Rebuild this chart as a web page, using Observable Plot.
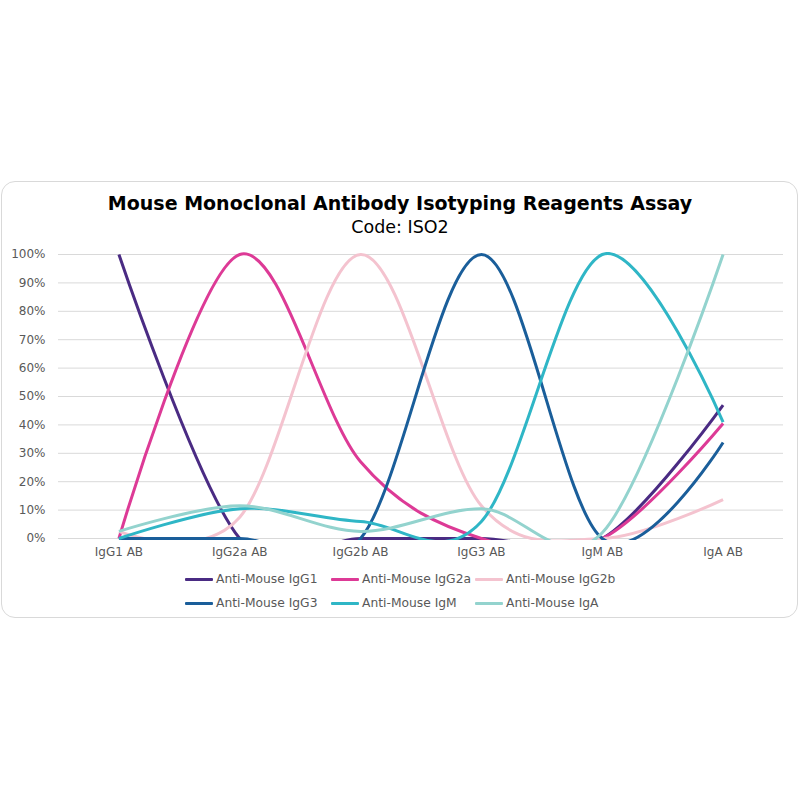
<!DOCTYPE html>
<html>
<head>
<meta charset="utf-8">
<script src="https://cdn.jsdelivr.net/npm/d3@7"></script>
<script src="https://cdn.jsdelivr.net/npm/@observablehq/plot@0.6"></script>
<style>
  html, body { margin: 0; padding: 0; background: #fff; }
  body { width: 800px; height: 800px; position: relative; overflow: hidden; font-family: "DejaVu Sans", Verdana, sans-serif; }
  #card { position: absolute; left: 1px; top: 181px; width: 797px; height: 437px; border: 1px solid #d9d9d9; border-radius: 14px; box-sizing: border-box; }
  #title { position: absolute; left: 0; width: 800px; top: 192px; text-align: center; font-weight: bold; font-size: 19px; color: #000; line-height: 22px; }
  #subtitle { position: absolute; left: 0; width: 800px; top: 216px; text-align: center; font-size: 17.5px; color: #000; line-height: 22px; }
  #chart { position: absolute; left: 0; top: 240px; }
  #legend { position: absolute; left: 185px; top: 570px; display: grid; grid-template-columns: 146px 144px 144px; row-gap: 6px; font-size: 12.3px; color: #595959; }
  .item { display: flex; align-items: center; height: 18px; white-space: nowrap; }
  .sw { width: 28px; height: 3px; margin-right: 3px; border-radius: 1px; }
</style>
</head>
<body>
<div id="card"></div>
<div id="title">Mouse Monoclonal Antibody Isotyping Reagents Assay</div>
<div id="subtitle">Code: ISO2</div>
<div id="chart"></div>
<div id="legend"></div>
<script>
const categories = ["IgG1 AB", "IgG2a AB", "IgG2b AB", "IgG3 AB", "IgM AB", "IgA AB"];
const seriesNames = ["Anti-Mouse IgG1", "Anti-Mouse IgG2a", "Anti-Mouse IgG2b", "Anti-Mouse IgG3", "Anti-Mouse IgM", "Anti-Mouse IgA"];
const seriesColors = ["#4a2b83", "#dd3a96", "#f4c3cf", "#1a5e9a", "#2fb6c6", "#93d3ce"];
const antiIgG1  = [100, 0, 0, 0, 0, 47];
const antiIgG2a = [0, 100, 27, 0, 0, 40.5];
const antiIgG2b = [2.5, 7.5, 100, 11.5, 0, 13.7];
const antiIgG3  = [0, 0, 0, 100, 0, 33.8];
const antiIgM   = [0, 10.5, 6, 6, 100, 41];
const antiIgA   = [2.5, 11.5, 2.5, 10.5, 2, 100];
const yTicks = [0, 10, 20, 30, 40, 50, 60, 70, 80, 90, 100];

const seriesValues = [antiIgG1, antiIgG2a, antiIgG2b, antiIgG3, antiIgM, antiIgA];
const rows = [];
seriesValues.forEach((vals, si) => {
  vals.forEach((v, ci) => rows.push({series: seriesNames[si], cat: categories[ci], value: v / 100}));
});

const chart = Plot.plot({
  width: 800,
  height: 330,
  marginLeft: 58,
  marginRight: 17,
  marginTop: 12,
  marginBottom: 30,
  style: {fontFamily: "DejaVu Sans, Verdana, sans-serif", fontSize: "12px", color: "#595959", background: "transparent"},
  x: {type: "point", domain: categories, padding: 0.5, round: false, label: null},
  y: {domain: [0, 1], range: [298, 14], label: null},
  color: {domain: seriesNames, range: seriesColors},
  marks: [
    Plot.gridY(yTicks.map(d => d / 100), {stroke: "#d9d9d9", strokeOpacity: 1, strokeWidth: 1}),
    Plot.axisY(yTicks.map(d => d / 100), {tickSize: 0, tickPadding: 13, tickFormat: d => Math.round(d * 100) + "%", fill: "#595959", fontSize: 12}),
    Plot.axisX({tickSize: 0, tickPadding: 7, fill: "#595959", fontSize: 12}),
    Plot.line(rows, {x: "cat", y: "value", z: "series", stroke: "series", strokeWidth: 3, curve: "cardinal", clip: true, strokeLinecap: "butt", strokeLinejoin: "round"})
  ]
});
document.getElementById("chart").appendChild(chart);

const legend = document.getElementById("legend");
seriesNames.forEach((name, i) => {
  const item = document.createElement("div");
  item.className = "item";
  const sw = document.createElement("span");
  sw.className = "sw";
  sw.style.background = seriesColors[i];
  const label = document.createElement("span");
  label.textContent = name;
  item.appendChild(sw);
  item.appendChild(label);
  legend.appendChild(item);
});
</script>
</body>
</html>
